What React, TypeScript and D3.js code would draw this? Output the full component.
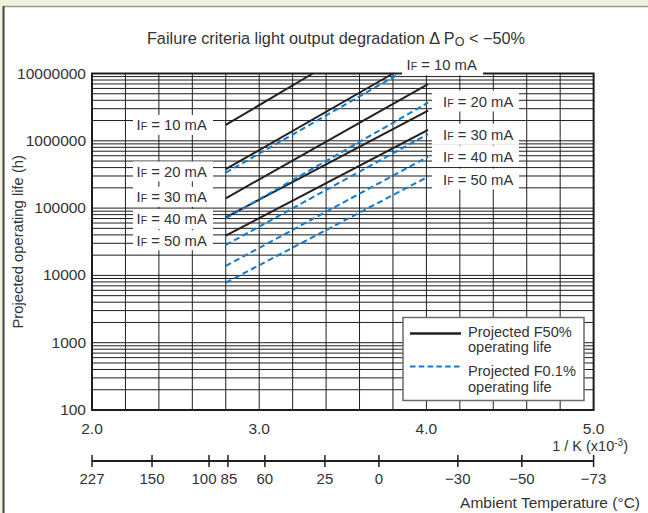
import React from "react";
import * as d3 from "d3";

// ---------- data ----------
const currents = ["10", "20", "30", "40", "50"];
const startInvK = 2.8;
// Projected F50% operating life (solid)
const f50Start = [1.72e6, 3.78e5, 1.4e5, 7.3e4, 3.89e4];
const f50End = [1.0e7, 1.0e7, 6.98e6, 2.8e6, 1.45e6];
const f50EndInvK = [3.32, 3.8, 4.01, 4.01, 4.01];
// Projected F0.1% operating life (dashed)
const f01Start = [3.36e5, 7.05e4, 2.83e4, 1.38e4, 7.78e3];
const f01End = [1.0e7, 3.68e6, 1.26e6, 5.81e5, 2.93e5];
const f01EndInvK = [3.84, 4.01, 4.01, 4.01, 4.01];

const yTickValues = [100, 1000, 10000, 100000, 1000000, 10000000];
const xTickValues = [2.0, 3.0, 4.0, 5.0];
const tempLabels = ["227", "150", "100", "85", "60", "25", "0", "\u221230", "\u221250", "\u221273"];
const tempInvK = [2.0, 2.359, 2.7, 2.813, 3.034, 3.393, 3.716, 4.188, 4.571, 5.0];
const tempLabelShift = [0, 0, -5, 1, 0, 0, 0, 0, 0, 0];

// label anchor values (life, hours) for the current labels
const leftLabelLife = [1.72e6, 3.5e5, 1.47e5, 6.9e4, 3.33e4];
const rightLabelLife = [1.35e7, 3.9e6, 1.25e6, 5.9e5, 2.7e5];

// ---------- layout ----------
const W = 648;
const H = 513;
const FONT = "'Liberation Sans', Arial, Helvetica, sans-serif";
const TXT = "#333";
const GRID = "#1e1e1e";
const BLUE = "#0f7bd0";

export default function App() {
  const x = d3.scaleLinear().domain([2, 5]).range([92, 593.6]);
  const y = d3.scaleLog().domain([100, 1e7]).range([410, 73.5]);

  const vGrid = d3.range(0, 16).map((i) => 2 + i * 0.2);
  const hGrid: number[] = [];
  for (let e = 2; e < 7; e++) {
    for (let m = 1; m <= 9; m++) hGrid.push(m * Math.pow(10, e));
  }
  hGrid.push(1e7);

  const line = d3
    .line<[number, number]>()
    .x((d) => x(d[0]))
    .y((d) => y(d[1]));

  const IF = (cur: string, fs: number) => (
    <>
      <tspan>I</tspan>
      <tspan fontSize={fs * 0.72}>F</tspan>
      <tspan>{` = ${cur} mA`}</tspan>
    </>
  );

  const fs = 14.8;
  const [x0, x1] = x.range();
  const [yb, yt] = y.range();

  return (
    <>
      <style>{`body{margin:0;}`}</style>
      <svg width={W} height={H} style={{ display: "block", fontFamily: FONT }}>
        {/* frame background */}
        <rect x={0} y={0} width={W} height={H} fill="#eff3dd" />
        <rect x={3} y={6} width={W - 3} height={H - 6} fill="#fff" />
        <line x1={3} y1={6.5} x2={W} y2={6.5} stroke="#9a9a8c" strokeWidth={1.5} />
        <line x1={3.5} y1={6} x2={3.5} y2={H} stroke="#444" strokeWidth={2} />

        {/* title */}
        <text x={336} y={44} textAnchor="middle" fontSize={16.3} fill={TXT}>
          Failure criteria light output degradation {"\u0394"} P
          <tspan fontSize={12.5} dy={2}>O</tspan>
          <tspan dy={-2}>{" < \u221250%"}</tspan>
        </text>

        {/* grid */}
        {hGrid.map((v, i) => (
          <line key={"h" + i} x1={x0} x2={x1} y1={y(v)} y2={y(v)} stroke={GRID} strokeWidth={1} />
        ))}
        {vGrid.map((v, i) => (
          <line key={"v" + i} x1={x(v)} x2={x(v)} y1={yt} y2={yb} stroke={GRID} strokeWidth={1} />
        ))}
        <rect x={x0} y={yt} width={x1 - x0} height={yb - yt} fill="none" stroke={GRID} strokeWidth={2} />

        {/* y tick labels */}
        {yTickValues.map((v) => (
          <text key={v} x={86} y={y(v) + 5} textAnchor="end" fontSize={15.5} fill={TXT}>
            {String(v)}
          </text>
        ))}
        <text
          transform={`translate(23,${(yt + yb) / 2}) rotate(-90)`}
          textAnchor="middle"
          fontSize={14.8}
          fill={TXT}
        >
          Projected operating life (h)
        </text>

        {/* x tick labels */}
        {xTickValues.map((v) => (
          <text key={v} x={x(v)} y={434} textAnchor="middle" fontSize={15.5} fill={TXT}>
            {v.toFixed(1)}
          </text>
        ))}
        <text x={628} y={451} textAnchor="end" fontSize={14.5} fill={TXT}>
          1 / K (x10
          <tspan fontSize={10} dy={-5}>-3</tspan>
          <tspan dy={5}>)</tspan>
        </text>

        {/* F50% lines */}
        {currents.map((c, i) => (
          <path
            key={"s" + c}
            d={line([
              [startInvK, f50Start[i]],
              [f50EndInvK[i], f50End[i]],
            ]) as string}
            fill="none"
            stroke="#231f20"
            strokeWidth={2}
          />
        ))}
        {/* F0.1% lines */}
        {currents.map((c, i) => (
          <path
            key={"d" + c}
            d={line([
              [startInvK, f01Start[i]],
              [f01EndInvK[i], f01End[i]],
            ]) as string}
            fill="none"
            stroke={BLUE}
            strokeWidth={2}
            strokeDasharray="6,3.5"
          />
        ))}

        {/* left labels (F50%) */}
        {currents.map((c, i) => {
          const cy = y(leftLabelLife[i]);
          return (
            <g key={"ll" + c}>
              <rect x={133} y={cy - 10} width={80} height={20} fill="#fff" />
              <text x={136.5} y={cy + 5.5} fontSize={fs} fill={TXT}>
                {IF(c, fs)}
              </text>
            </g>
          );
        })}

        {/* right labels (F0.1%) */}
        {currents.map((c, i) => {
          const cy = y(rightLabelLife[i]);
          const top = i === 0;
          const bx = top ? 402 : 432;
          const tx = top ? 406.5 : 443;
          return (
            <g key={"rl" + c}>
              <rect x={bx} y={cy - 10.5} width={top ? 81 : 87} height={21} fill="#fff" />
              <text x={tx} y={cy + 5.5} fontSize={fs} fill={TXT}>
                {IF(c, fs)}
              </text>
            </g>
          );
        })}

        {/* legend */}
        <g>
          <rect x={403} y={317.5} width={181} height={83} fill="#fff" stroke="#6b6b6b" strokeWidth={1.5} />
          <line x1={410} x2={461} y1={333.5} y2={333.5} stroke="#231f20" strokeWidth={2.5} />
          <text x={468} y={336.5} fontSize={14.6} fill={TXT}>Projected F50%</text>
          <text x={468} y={352} fontSize={14.6} fill={TXT}>operating life</text>
          <line x1={410} x2={461} y1={366.5} y2={366.5} stroke={BLUE} strokeWidth={2} strokeDasharray="5.5,3.3" />
          <text x={468} y={376} fontSize={14.6} fill={TXT}>Projected F0.1%</text>
          <text x={468} y={391.5} fontSize={14.6} fill={TXT}>operating life</text>
        </g>

        {/* ambient temperature axis */}
        <line x1={x0} x2={x1} y1={461} y2={461} stroke={GRID} strokeWidth={2} />
        {tempInvK.map((v, i) => (
          <g key={"t" + i}>
            <line x1={x(v)} x2={x(v)} y1={455} y2={467} stroke={GRID} strokeWidth={1.5} />
            <text x={x(v) + tempLabelShift[i]} y={484} textAnchor="middle" fontSize={15} fill={TXT}>
              {tempLabels[i]}
            </text>
          </g>
        ))}
        <text x={640} y={508} textAnchor="end" fontSize={15.5} fill={TXT}>
          Ambient Temperature ({"\u00b0"}C)
        </text>
      </svg>
    </>
  );
}
